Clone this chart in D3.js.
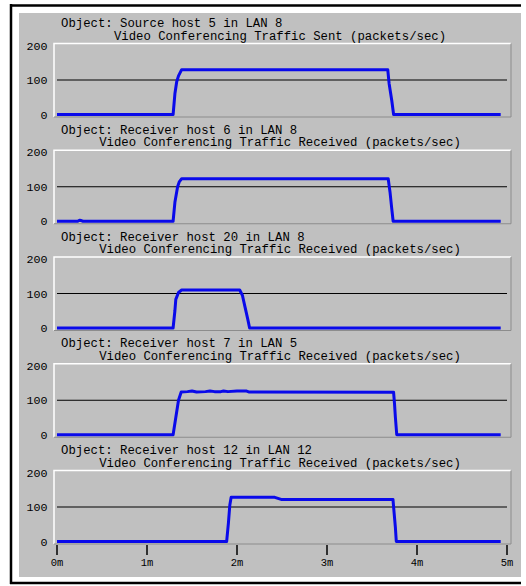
<!DOCTYPE html>
<html>
<head>
<meta charset="utf-8">
<script src="https://cdn.jsdelivr.net/npm/d3@7"></script>
<style>
  html, body { margin: 0; padding: 0; background: #ffffff; }
  svg { display: block; }
  text { font-family: "Liberation Mono", "DejaVu Sans Mono", monospace; fill: #000; }
</style>
</head>
<body>
<svg id="chart" width="526" height="586"></svg>
<script>
// Panel headings
const objectNames = [
  "Object: Source host 5 in LAN 8",
  "Object: Receiver host 6 in LAN 8",
  "Object: Receiver host 20 in LAN 8",
  "Object: Receiver host 7 in LAN 5",
  "Object: Receiver host 12 in LAN 12"
];
const statNames = [
  "Video Conferencing Traffic Sent (packets/sec)",
  "Video Conferencing Traffic Received (packets/sec)",
  "Video Conferencing Traffic Received (packets/sec)",
  "Video Conferencing Traffic Received (packets/sec)",
  "Video Conferencing Traffic Received (packets/sec)"
];

// Axis ticks
const yTickValues = [0, 100, 200];
const xTickValues = [0, 1, 2, 3, 4, 5];
const xTickLabels = ["0m", "1m", "2m", "3m", "4m", "5m"];

// Series: time (minutes) and packets/sec
const host5SentT  = [0, 1.29, 1.31, 1.33, 1.35, 1.385, 3.675, 3.69, 3.72, 3.74, 4.93];
const host5SentV  = [0, 0,    60,   95,   112,  130,   130,   90,   40,   0,    0];

const host6RecvT  = [0, 0.23, 0.25, 0.27, 0.29, 1.29, 1.31, 1.34, 1.36, 1.385, 3.68, 3.70, 3.72, 3.735, 4.93];
const host6RecvV  = [0, 0,    3,    2,    0,    0,    55,   100,  115,  123,   123,  85,   35,   0,     0];

const host20RecvT = [0, 1.29, 1.31, 1.32, 1.35, 1.385, 2.03, 2.06, 2.09, 2.12, 2.14, 4.93];
const host20RecvV = [0, 0,    50,   83,   103,  110,   110,  95,   60,   25,   0,    0];

const host7RecvT  = [0, 1.29, 1.32, 1.35, 1.38, 1.45, 1.5, 1.55, 1.65, 1.70, 1.75, 1.82, 1.85, 1.9, 2.0, 2.1, 2.13, 3.74, 3.75, 3.76, 3.775, 4.93];
const host7RecvV  = [0, 0,    50,   100,  124,  125,  127, 124,  125,  127,  125,  125,  127,  125, 127, 127, 124,  123,  90,   50,   0,     0];

const host12RecvT = [0, 1.885, 1.905, 1.92, 1.935, 2.42, 2.49, 3.733, 3.745, 3.76, 3.77, 4.93];
const host12RecvV = [0, 0,     55,    105,  128,   128,  122,  122,   85,    40,   0,    0];

const seriesT = [host5SentT, host6RecvT, host20RecvT, host7RecvT, host12RecvT];
const seriesV = [host5SentV, host6RecvV, host20RecvV, host7RecvV, host12RecvV];

const svg = d3.select("#chart");

// Window frame
svg.append("rect").attr("x", 19).attr("y", 13).attr("width", 502).attr("height", 564).attr("fill", "#c0c0c0");
svg.append("path")
  .attr("d", "M10,5.5 H521 M11,4 V584 M10,583 H521")
  .attr("stroke", "#000").attr("stroke-width", 2.5).attr("fill", "none");

const x = d3.scaleLinear().domain([0, 5]).range([57, 507]);
const panelStep = 106.75;
const firstGrid = 80;

seriesT.forEach((ts, i) => {
  const grid = firstGrid + i * panelStep;
  const y = d3.scaleLinear().domain([0, 200]).range([grid + 34.5, grid - 34.5]);
  const g = svg.append("g");

  const top = grid - 36.5, bottom = grid + 37, left = 54, right = 511;
  // inset frame: light top/left, dark right/bottom
  g.append("path").attr("d", `M${left},${bottom} V${top} H${right}`)
    .attr("stroke", "#ffffff").attr("stroke-width", 1.5).attr("fill", "none");
  g.append("path").attr("d", `M${right},${top} V${bottom} H${left}`)
    .attr("stroke", "#8c8c8c").attr("stroke-width", 1).attr("fill", "none");

  // reference line at 100
  g.append("line")
    .attr("x1", x(0)).attr("x2", x(5))
    .attr("y1", y(100)).attr("y2", y(100))
    .attr("stroke", "#000").attr("stroke-width", 1.2);

  // y tick labels
  g.selectAll("text.ytick").data(yTickValues).join("text")
    .attr("class", "ytick")
    .attr("x", 47.5).attr("y", d => y(d)).attr("dy", "0.36em")
    .attr("text-anchor", "end")
    .style("font-size", "11.7px")
    .text(d => d);

  // headings
  g.append("text").attr("x", 61).attr("y", grid - 53)
    .style("font-size", "12.3px").text(objectNames[i]);
  g.append("text").attr("x", 280).attr("y", grid - 40.5)
    .attr("text-anchor", "middle")
    .style("font-size", "12.3px").text(statNames[i]);

  const pts = ts.map((t, k) => [t, seriesV[i][k]]);
  const line = d3.line().x(d => x(d[0])).y(d => y(d[1]));
  g.append("path").datum(pts)
    .attr("d", line)
    .attr("fill", "none")
    .attr("stroke", "#0a0aea")
    .attr("stroke-width", 3)
    .attr("stroke-linejoin", "round");

  // time axis on the bottom panel only
  if (i === seriesT.length - 1) {
    const axisY = 545;
    g.selectAll("line.xtick").data(xTickValues).join("line")
      .attr("class", "xtick")
      .attr("x1", d => x(d)).attr("x2", d => x(d))
      .attr("y1", axisY).attr("y2", axisY + 10)
      .attr("stroke", "#000").attr("stroke-width", 1.5);
    g.selectAll("text.xlab").data(xTickValues).join("text")
      .attr("class", "xlab")
      .attr("x", d => x(d)).attr("y", 566)
      .attr("text-anchor", "middle")
      .style("font-size", "10.5px")
      .text((d, k) => xTickLabels[k]);
  }
});
</script>
</body>
</html>
